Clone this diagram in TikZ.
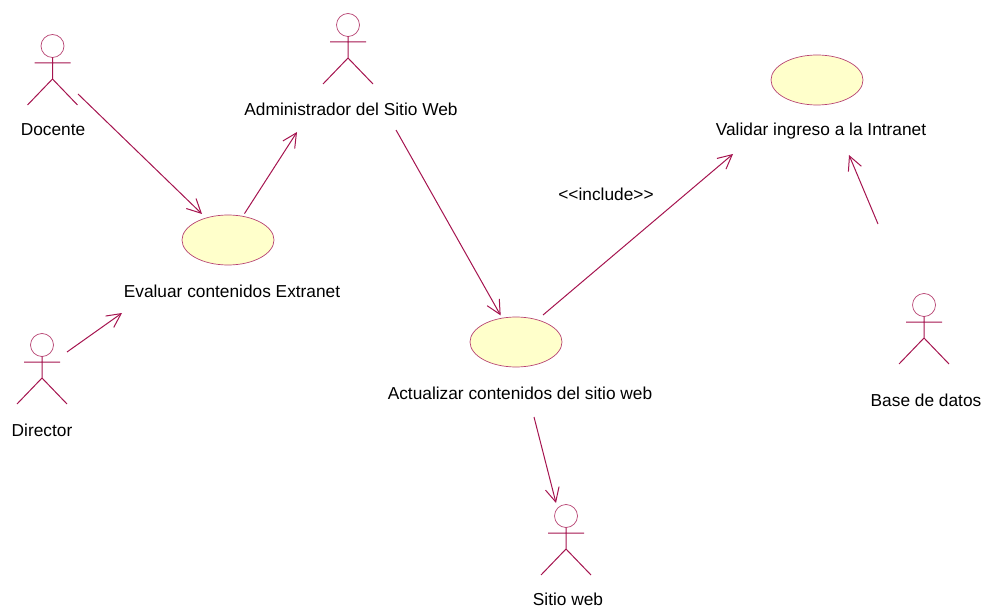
\documentclass[tikz,border=0pt]{standalone}
\usepackage{fontspec}
\setmainfont{Liberation Sans}
\usetikzlibrary{arrows.meta}
\usetikzlibrary{shapes.geometric}
\definecolor{umlline}{HTML}{A5144F}
\definecolor{umlfill}{HTML}{FFFFCB}
\tikzset{
	actor/.pic={
		\draw[umlline!80,line width=.7pt,fill=white] (0,0) circle (11.5);
		\draw[umlline,line width=1pt] (0,11.5) -- (0,33) (-18,17) -- (18,17) (-25,59) -- (0,33) -- (25,59);
	},
	usecase/.style={ellipse,draw=umlline!80,fill=umlfill,line width=.7pt,minimum width=92,minimum height=50,inner sep=0,outer sep=3},
	umltext/.style={inner sep=0,font=\fontsize{17.3}{20}\selectfont},
	assoc/.style={->,umlline,line width=1pt}
}
\begin{document}
\begin{tikzpicture}[x=1pt,y=-1pt,>={Straight Barb[length=14pt,width=14pt]}]
	\useasboundingbox (0,0) rectangle (992,609);
	% actors
	\pic at (52.5,46) {actor};
	\pic at (348,25) {actor};
	\pic at (42,345) {actor};
	\pic at (924,305) {actor};
	\pic at (566,516) {actor};
	\node[umltext] (docente) at (53,130) {Docente};
	\node[umltext] (admin) at (351,109) {Administrador del Sitio Web};
	\node[umltext] (director) at (42,430) {Director};
	\node[umltext] (basedatos) at (926,400) {Base de datos};
	\node[umltext] (sitioweb) at (568,599) {Sitio web};
	% use cases
	\node[usecase] (evaluar) at (228,240) {};
	\node[usecase] (actualizar) at (516,342) {};
	\node[usecase] (validar) at (817,80) {};
	\node[umltext] (evaluartext) at (232,291) {Evaluar contenidos Extranet};
	\node[umltext] (actualizartext) at (520,393) {Actualizar contenidos del sitio web};
	\node[umltext] (validartext) at (821,131) {Validar ingreso a la Intranet};
	\node[umltext] (include) at (606,194) {<{}<include>{}>};
	% free ends
	\coordinate (docenteout) at (78,94);
	\coordinate (evaluarin) at (202,214);
	\coordinate (adminin) at (297,132);
	\coordinate (directorout) at (67,352);
	\coordinate (evaluarin2) at (122,313);
	\coordinate (adminout) at (396,130);
	\coordinate (validarin) at (733,154);
	\coordinate (includeout) at (543,315);
	\coordinate (baseout) at (878,224);
	\coordinate (validarin2) at (849,155);
	\coordinate (actualizarout) at (534,417);
	\coordinate (sitioin) at (556,503);
	\draw[assoc] (docenteout) -- (evaluarin);
	\draw[assoc] (evaluar.58) -- (adminin);
	\draw[assoc] (directorout) -- (evaluarin2);
	\draw[assoc] (adminout) -- (actualizar.120);
	\draw[assoc] (includeout) -- (validarin);
	\draw[assoc] (baseout) -- (validarin2);
	\draw[assoc] (actualizarout) -- (sitioin);
\end{tikzpicture}
\end{document}
